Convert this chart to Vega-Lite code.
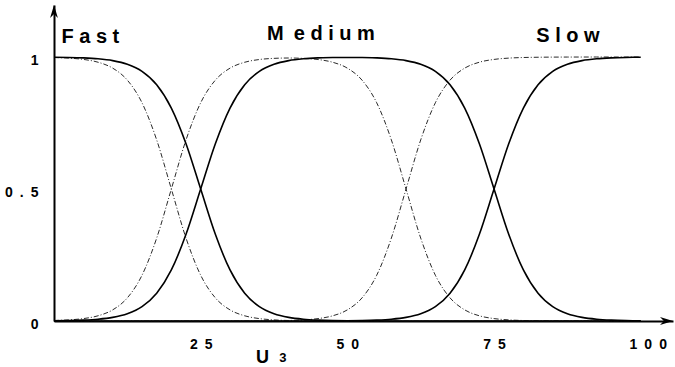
{
  "$schema": "https://vega.github.io/schema/vega-lite/v6.json",
  "autosize": {"type": "none"},
  "padding": {"left": 54, "top": 5, "right": 2, "bottom": 46},
  "width": 619,
  "height": 316,
  "background": "white",
  "config": {"view": {"stroke": null}, "font": "Liberation Sans"},
  "datasets": {
    "curves": [
      {"x": 0, "fs": 0.9992, "ms": 0.0008, "ss": 0, "fd": 0.9981, "md": 0.0019, "sd": 0},
      {"x": 2.5, "fs": 0.9984, "ms": 0.0016, "ss": 0, "fd": 0.9958, "md": 0.0042, "sd": 0},
      {"x": 5, "fs": 0.9967, "ms": 0.0033, "ss": 0, "fd": 0.9909, "md": 0.0091, "sd": 0},
      {"x": 7.5, "fs": 0.9933, "ms": 0.0067, "ss": 0, "fd": 0.9803, "md": 0.0197, "sd": 0},
      {"x": 10, "fs": 0.9864, "ms": 0.0136, "ss": 0, "fd": 0.9579, "md": 0.0421, "sd": 0},
      {"x": 12.5, "fs": 0.9726, "ms": 0.0274, "ss": 0, "fd": 0.9124, "md": 0.0876, "sd": 0},
      {"x": 15, "fs": 0.9457, "ms": 0.0543, "ss": 0, "fd": 0.8267, "md": 0.1733, "sd": 0},
      {"x": 17.5, "fs": 0.895, "ms": 0.105, "ss": 0, "fd": 0.6859, "md": 0.3141, "sd": 0},
      {"x": 20, "fs": 0.8067, "ms": 0.1933, "ss": 0, "fd": 0.5, "md": 0.5, "sd": 0},
      {"x": 22.5, "fs": 0.6714, "ms": 0.3286, "ss": 0, "fd": 0.3141, "md": 0.6859, "sd": 0},
      {"x": 25, "fs": 0.5, "ms": 0.5, "ss": 0, "fd": 0.1733, "md": 0.8267, "sd": 0},
      {"x": 27.5, "fs": 0.3286, "ms": 0.6714, "ss": 0, "fd": 0.0876, "md": 0.9124, "sd": 0},
      {"x": 30, "fs": 0.1933, "ms": 0.8067, "ss": 0, "fd": 0.0421, "md": 0.9578, "sd": 0.0001},
      {"x": 32.5, "fs": 0.105, "ms": 0.895, "ss": 0, "fd": 0.0197, "md": 0.9801, "sd": 0.0002},
      {"x": 35, "fs": 0.0543, "ms": 0.9457, "ss": 0, "fd": 0.0091, "md": 0.9905, "sd": 0.0004},
      {"x": 37.5, "fs": 0.0274, "ms": 0.9726, "ss": 0, "fd": 0.0042, "md": 0.9949, "sd": 0.0009},
      {"x": 40, "fs": 0.0136, "ms": 0.9864, "ss": 0, "fd": 0.0019, "md": 0.9962, "sd": 0.0019},
      {"x": 42.5, "fs": 0.0067, "ms": 0.9933, "ss": 0, "fd": 0.0009, "md": 0.9949, "sd": 0.0042},
      {"x": 45, "fs": 0.0033, "ms": 0.9967, "ss": 0, "fd": 0.0004, "md": 0.9905, "sd": 0.0091},
      {"x": 47.5, "fs": 0.0016, "ms": 0.9984, "ss": 0, "fd": 0.0002, "md": 0.9801, "sd": 0.0197},
      {"x": 50, "fs": 0.0008, "ms": 0.9984, "ss": 0.0008, "fd": 0.0001, "md": 0.9578, "sd": 0.0421},
      {"x": 52.5, "fs": 0, "ms": 0.9984, "ss": 0.0016, "fd": 0, "md": 0.9124, "sd": 0.0876},
      {"x": 55, "fs": 0, "ms": 0.9967, "ss": 0.0033, "fd": 0, "md": 0.8267, "sd": 0.1733},
      {"x": 57.5, "fs": 0, "ms": 0.9933, "ss": 0.0067, "fd": 0, "md": 0.6859, "sd": 0.3141},
      {"x": 60, "fs": 0, "ms": 0.9864, "ss": 0.0136, "fd": 0, "md": 0.5, "sd": 0.5},
      {"x": 62.5, "fs": 0, "ms": 0.9726, "ss": 0.0274, "fd": 0, "md": 0.3141, "sd": 0.6859},
      {"x": 65, "fs": 0, "ms": 0.9457, "ss": 0.0543, "fd": 0, "md": 0.1733, "sd": 0.8267},
      {"x": 67.5, "fs": 0, "ms": 0.895, "ss": 0.105, "fd": 0, "md": 0.0876, "sd": 0.9124},
      {"x": 70, "fs": 0, "ms": 0.8067, "ss": 0.1933, "fd": 0, "md": 0.0421, "sd": 0.9579},
      {"x": 72.5, "fs": 0, "ms": 0.6714, "ss": 0.3286, "fd": 0, "md": 0.0197, "sd": 0.9803},
      {"x": 75, "fs": 0, "ms": 0.5, "ss": 0.5, "fd": 0, "md": 0.0091, "sd": 0.9909},
      {"x": 77.5, "fs": 0, "ms": 0.3286, "ss": 0.6714, "fd": 0, "md": 0.0042, "sd": 0.9958},
      {"x": 80, "fs": 0, "ms": 0.1933, "ss": 0.8067, "fd": 0, "md": 0.0019, "sd": 0.9981},
      {"x": 82.5, "fs": 0, "ms": 0.105, "ss": 0.895, "fd": 0, "md": 0.0009, "sd": 0.9991},
      {"x": 85, "fs": 0, "ms": 0.0543, "ss": 0.9457, "fd": 0, "md": 0.0004, "sd": 0.9996},
      {"x": 87.5, "fs": 0, "ms": 0.0274, "ss": 0.9726, "fd": 0, "md": 0.0002, "sd": 0.9998},
      {"x": 90, "fs": 0, "ms": 0.0136, "ss": 0.9864, "fd": 0, "md": 0.0001, "sd": 0.9999},
      {"x": 92.5, "fs": 0, "ms": 0.0067, "ss": 0.9933, "fd": 0, "md": 0, "sd": 1},
      {"x": 95, "fs": 0, "ms": 0.0033, "ss": 0.9967, "fd": 0, "md": 0, "sd": 1},
      {"x": 97.5, "fs": 0, "ms": 0.0016, "ss": 0.9984, "fd": 0, "md": 0, "sd": 1},
      {"x": 100, "fs": 0, "ms": 0.0008, "ss": 0.9992, "fd": 0, "md": 0, "sd": 1}
    ],
    "labels": [
      {"t": "F a s t", "x": 6.2, "y": 1.053},
      {"t": "M\u2002e d i u m", "x": 45.5, "y": 1.064},
      {"t": "S l o w", "x": 87.6, "y": 1.057}
    ],
    "sub": [{"t": "3", "x": 39.0, "y": -0.155}],
    "xticks": [{"x": 25}, {"x": 50}, {"x": 75}, {"x": 100}],
    "yticks": [{"y": 0.5}, {"y": 1}],
    "arrows": [
      {"dir": "right", "x": 105.5, "y": 0},
      {"dir": "up", "x": 0, "y": 1.197}
    ]
  },
  "encoding": {
    "x": {
      "field": "x", "type": "quantitative",
      "scale": {"domain": [0, 105.5], "nice": false, "zero": false},
      "axis": {
        "values": [25, 50, 75, 100],
        "grid": false,
        "ticks": false,
        "domainColor": "black", "domainWidth": 2,
        "labelFont": "Liberation Sans", "labelFontWeight": "bold", "labelFontSize": 14, "labelColor": "black",
        "labelPadding": 16,
        "labelOffset": {"condition": {"test": "datum.value == 100", "value": 7}, "value": 0},
        "labelExpr": "join(split(format(datum.value, '~g'), ''), '\u2002')",
        "title": "U",
        "titleFont": "Liberation Sans", "titleFontWeight": "bold", "titleFontSize": 18, "titleColor": "black",
        "titleX": 208, "titleY": 45, "titleAlign": "center", "titleBaseline": "bottom", "titleAnchor": null
      }
    },
    "y": {
      "field": "y", "type": "quantitative",
      "scale": {"domain": [0, 1.197], "nice": false, "zero": false},
      "axis": {
        "values": [0, 0.5, 1],
        "grid": false,
        "ticks": false,
        "domainColor": "black", "domainWidth": 2,
        "labelFont": "Liberation Sans", "labelFontWeight": "bold", "labelFontSize": 14, "labelColor": "black",
        "labelPadding": 16, "labelBaseline": "middle", "labelOffset": 3,
        "labelExpr": "join(split(format(datum.value, '~g'), ''), '\u2002')",
        "title": null
      }
    }
  },
  "layer": [
    {
      "data": {"name": "curves"},
      "transform": [{"fold": ["fd", "md", "sd"], "as": ["k", "y"]}],
      "mark": {"type": "line", "interpolate": "monotone", "color": "#2a2a2a", "strokeWidth": 1, "strokeDash": [5, 2, 1, 2]},
      "encoding": {"detail": {"field": "k", "type": "nominal"}}
    },
    {
      "data": {"name": "curves"},
      "transform": [{"fold": ["fs", "ms", "ss"], "as": ["k", "y"]}],
      "mark": {"type": "line", "interpolate": "monotone", "color": "black", "strokeWidth": 1.6},
      "encoding": {"detail": {"field": "k", "type": "nominal"}}
    },
    {
      "data": {"name": "xticks"},
      "mark": {"type": "rule", "color": "black", "strokeWidth": 1.5},
      "encoding": {"y": {"datum": 0}, "y2": {"datum": 0.015}}
    },
    {
      "data": {"name": "yticks"},
      "mark": {"type": "rule", "color": "black", "strokeWidth": 1.5},
      "encoding": {"x": {"datum": 0}, "x2": {"datum": 1.2}}
    },
    {
      "data": {"name": "labels"},
      "mark": {"type": "text", "font": "Liberation Sans", "fontWeight": "bold", "fontSize": 20, "color": "black", "align": "center", "baseline": "alphabetic"},
      "encoding": {"text": {"field": "t", "type": "nominal"}}
    },
    {
      "data": {"name": "sub"},
      "mark": {"type": "text", "font": "Liberation Sans", "fontWeight": "bold", "fontSize": 13, "color": "black", "align": "center", "baseline": "alphabetic"},
      "encoding": {"text": {"field": "t", "type": "nominal"}}
    },
    {
      "data": {"name": "arrows"},
      "mark": {"type": "point", "filled": true, "color": "black", "opacity": 1, "size": 169, "strokeWidth": 0},
      "encoding": {
        "shape": {
          "field": "dir", "type": "nominal",
          "scale": {"domain": ["right", "up"], "range": ["M0,0L-2,-0.6L-1.4,0L-2,0.6Z", "M0,0L-0.6,2L0,1.4L0.6,2Z"]},
          "legend": null
        }
      }
    }
  ]
}
